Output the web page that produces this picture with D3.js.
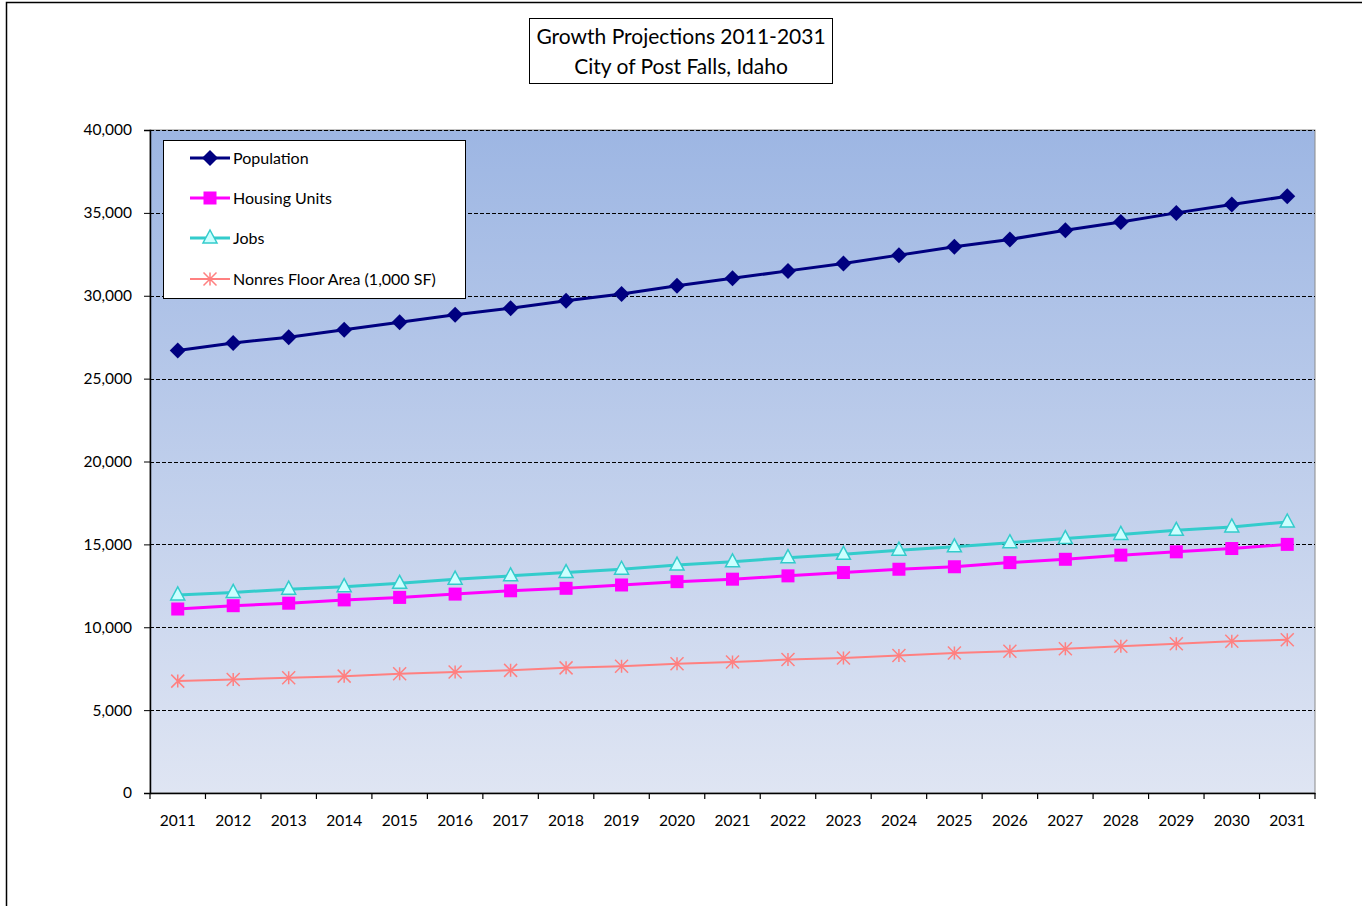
<!DOCTYPE html>
<html><head><meta charset="utf-8">
<script src="https://cdn.jsdelivr.net/npm/d3@7"></script>
<style>body{margin:0;background:#fff;}svg{display:block;font-family:Lato,"Open Sans",sans-serif;}</style>
</head><body>
<script>
const years = ["2011","2012","2013","2014","2015","2016","2017","2018","2019","2020","2021","2022","2023","2024","2025","2026","2027","2028","2029","2030","2031"];
const population = [26700,27150,27500,27950,28400,28850,29250,29700,30100,30600,31050,31500,31950,32450,32950,33400,33950,34450,35000,35500,36000];
const housing = [11100,11300,11450,11650,11800,12000,12200,12350,12550,12750,12900,13100,13300,13500,13650,13900,14100,14350,14550,14750,15000];
const jobs = [11950,12100,12300,12450,12650,12900,13100,13300,13500,13750,13950,14200,14400,14650,14850,15100,15350,15600,15850,16050,16350];
const nonres = [6750,6850,6950,7050,7200,7300,7400,7550,7650,7800,7900,8050,8150,8300,8450,8550,8700,8850,9000,9150,9250];
const yTicks = [0,5000,10000,15000,20000,25000,30000,35000,40000];
const titleLines = ["Growth Projections 2011-2031","City of Post Falls, Idaho"];
const seriesNames = ["Population","Housing Units","Jobs","Nonres Floor Area (1,000 SF)"];

const W=1362,H=906;
const svg=d3.select("body").append("svg").attr("width",W).attr("height",H);
// outer frame
svg.append("rect").attr("x",6.5).attr("y",2.5).attr("width",W+20).attr("height",H+20)
  .attr("fill","#fff").attr("stroke","#000").attr("stroke-width",1.5);

const L=150,R=1315,T=130,B=793;
const x=d3.scaleBand().domain(years).range([L,R]);
const y=d3.scaleLinear().domain([0,40000]).range([B,T]);

const defs=svg.append("defs");
const g=defs.append("linearGradient").attr("id","bg").attr("x1",0).attr("x2",0).attr("y1",0).attr("y2",1);
g.append("stop").attr("offset","0%").attr("stop-color","#9db6e3");
g.append("stop").attr("offset","100%").attr("stop-color","#dfe5f3");
svg.append("rect").attr("x",L).attr("y",T).attr("width",R-L).attr("height",B-T).attr("fill","url(#bg)")
  .attr("stroke","#8a8a8a").attr("stroke-width",1);

// gridlines
svg.append("g").selectAll("line").data(yTicks.filter(d=>d>0)).join("line")
  .attr("x1",L).attr("x2",R).attr("y1",d=>Math.round(y(d))+0.5).attr("y2",d=>Math.round(y(d))+0.5)
  .attr("stroke","#000").attr("stroke-width",1).attr("stroke-dasharray","4,2");

// y axis
const ya=svg.append("g").attr("transform",`translate(${L},0)`)
  .call(d3.axisLeft(y).tickValues(yTicks).tickFormat(d3.format(",")).tickSize(6).tickPadding(12));
ya.select(".domain").attr("stroke","#000").attr("stroke-width",1.5);
ya.selectAll("text").attr("font-size",15.5).attr("fill","#000").attr("font-family","Lato,'Open Sans',sans-serif");

// x axis
const xa=svg.append("g").attr("transform",`translate(0,${B})`)
  .call(d3.axisBottom(x).tickSize(0).tickPadding(22));
xa.select(".domain").attr("stroke","#000").attr("stroke-width",1.5);
xa.selectAll("text").attr("font-size",15.5).attr("fill","#000").attr("font-family","Lato,'Open Sans',sans-serif");
const bounds=years.map((d,i)=>x(d)).concat([R]);
xa.selectAll(".bt").data(bounds).join("line").attr("class","bt")
  .attr("x1",d=>d).attr("x2",d=>d).attr("y1",0).attr("y2",6).attr("stroke","#000").attr("stroke-width",1.2);

const cx=d=>x(d)+x.bandwidth()/2;
const line=d3.line().x((d,i)=>cx(years[i])).y(d=>y(d));

function drawMarker(sel,type,px,py){
  if(type==="diamond"){
    sel.append("path").attr("d",`M${px},${py-8}L${px+8},${py}L${px},${py+8}L${px-8},${py}Z`).attr("fill","#000080");
  } else if(type==="square"){
    sel.append("rect").attr("x",px-6.5).attr("y",py-6.5).attr("width",13).attr("height",13).attr("fill","#ff00ff");
  } else if(type==="triangle"){
    sel.append("path").attr("d",`M${px},${py-8}L${px+7},${py+5}L${px-7},${py+5}Z`).attr("fill","#ccffff").attr("stroke","#33cccc").attr("stroke-width",1.5);
  } else if(type==="star"){
    const s=6.5;
    sel.append("path").attr("d",`M${px-s},${py-s}L${px+s},${py+s}M${px-s},${py+s}L${px+s},${py-s}M${px},${py-s}L${px},${py+s}`)
      .attr("stroke","#ff8080").attr("stroke-width",1.5).attr("fill","none");
  }
}

const series=[
  {name:seriesNames[0],data:population,color:"#000080",w:3,m:"diamond"},
  {name:seriesNames[1],data:housing,color:"#ff00ff",w:3,m:"square"},
  {name:seriesNames[2],data:jobs,color:"#33cccc",w:3,m:"triangle"},
  {name:seriesNames[3],data:nonres,color:"#ff8080",w:2,m:"star"}
];
[3,2,1,0].forEach(k=>{
  const s=series[k];
  svg.append("path").attr("d",line(s.data)).attr("fill","none").attr("stroke",s.color).attr("stroke-width",s.w);
  const mg=svg.append("g");
  s.data.forEach((v,i)=>drawMarker(mg,s.m,cx(years[i]),y(v)));
});

// legend
const lg=svg.append("g");
lg.append("rect").attr("x",163.5).attr("y",140.5).attr("width",302).attr("height",158).attr("fill","#fff").attr("stroke","#000").attr("stroke-width",1);
const ly=[158,198,238,279];
series.forEach((s,i)=>{
  lg.append("line").attr("x1",190).attr("x2",230).attr("y1",ly[i]).attr("y2",ly[i]).attr("stroke",s.color).attr("stroke-width",s.w);
  drawMarker(lg,s.m,210,ly[i]);
  lg.append("text").attr("x",233).attr("y",ly[i]+5.5).attr("font-size",16).attr("fill","#000").text(s.name);
});

// title
const tg=svg.append("g");
tg.append("rect").attr("x",529.5).attr("y",18.5).attr("width",303).attr("height",65).attr("fill","#fff").attr("stroke","#000").attr("stroke-width",1);
titleLines.forEach((t,i)=>{
  tg.append("text").attr("x",681).attr("y",44+i*30).attr("text-anchor","middle").attr("font-size",21).attr("fill","#000").text(t);
});
</script>
</body></html>
